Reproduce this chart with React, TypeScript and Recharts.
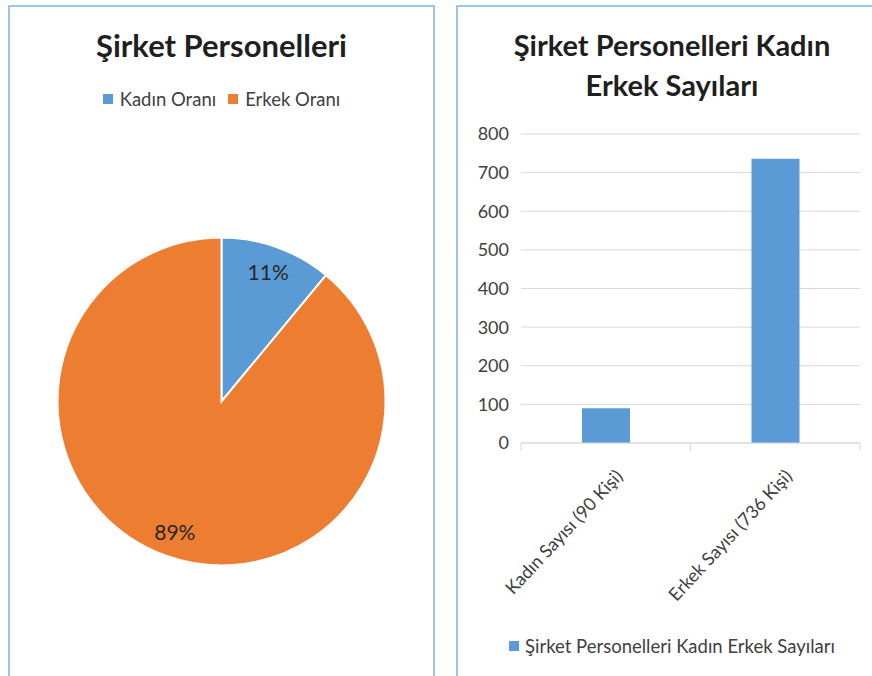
import React from "react";
import { PieChart, Pie, Cell, BarChart, Bar, XAxis, YAxis, CartesianGrid } from "recharts";

const pieLabels = ["Kadın Oranı", "Erkek Oranı"];
const pieValues = [11, 89];
const pieColors = ["#5b9bd5", "#ed7d31"];

const barCategories = ["Kadın Sayısı (90 Kişi)", "Erkek Sayısı (736 Kişi)"];
const barValues = [90, 736];
const barSeriesName = "Şirket Personelleri Kadın Erkek Sayıları";
const barColor = "#5b9bd5";
const yTicks = [0, 100, 200, 300, 400, 500, 600, 700, 800];

const FONT = "Lato, 'Open Sans', sans-serif";
const BORDER = "#9dc3e6";

const pieData = pieLabels.map((name, i) => ({ name, value: pieValues[i] }));
const barData = barCategories.map((name, i) => ({ name, value: barValues[i] }));

const BAR_W = 415;
const BAR_Y_W = 64;
const BAR_RIGHT = 12;
const PLOT_W = BAR_W - BAR_Y_W - BAR_RIGHT;
const HALF_BAND = PLOT_W / barCategories.length / 2;

const RAD = Math.PI / 180;

function PieLabel(props: any) {
  const { cx, cy, midAngle, outerRadius, percent } = props;
  const r = outerRadius * 0.84;
  const x = cx + r * Math.cos(-midAngle * RAD);
  const y = cy + r * Math.sin(-midAngle * RAD);
  return (
    <text
      x={x}
      y={y}
      fill="#262626"
      fontSize={21}
      fontFamily={FONT}
      textAnchor="middle"
      dominantBaseline="central"
    >
      {Math.round(percent * 100)}%
    </text>
  );
}

function CategoryTick(props: any) {
  const { x, y, payload, index } = props;
  const last = index === barCategories.length - 1;
  return (
    <g>
      <line x1={x - HALF_BAND} x2={x - HALF_BAND} y1={y - 8} y2={y} stroke="#d9d9d9" />
      {last && <line x1={x + HALF_BAND} x2={x + HALF_BAND} y1={y - 8} y2={y} stroke="#d9d9d9" />}
      <text
        transform={`translate(${x + 18}, ${y + 26}) rotate(-47)`}
        textAnchor="end"
        fill="#404040"
        fontSize={18}
        fontFamily={FONT}
      >
        {payload.value}
      </text>
    </g>
  );
}

const titleStyle: React.CSSProperties = {
  position: "absolute",
  textAlign: "center",
  fontFamily: FONT,
  fontWeight: 700,
  fontSize: 31,
  color: "#1f1f1f",
  lineHeight: "40px",
};

const legendText: React.CSSProperties = {
  fontFamily: FONT,
  fontSize: 18.5,
  color: "#404040",
};

export default function App() {
  return (
    <div
      style={{
        position: "absolute",
        left: 0,
        top: 0,
        width: 872,
        height: 676,
        overflow: "hidden",
        background: "#fff",
      }}
    >
      <div
        style={{
          position: "absolute",
          left: 8,
          top: 5,
          width: 427,
          height: 720,
          border: `2px solid ${BORDER}`,
          boxSizing: "border-box",
        }}
      />
      <div
        style={{
          position: "absolute",
          left: 456,
          top: 5,
          width: 460,
          height: 720,
          border: `2px solid ${BORDER}`,
          boxSizing: "border-box",
        }}
      />

      <div style={{ ...titleStyle, left: 8, width: 427, top: 25 }}>Şirket Personelleri</div>
      <div
        style={{
          position: "absolute",
          left: 8,
          width: 427,
          top: 88,
          display: "flex",
          justifyContent: "center",
          gap: 12,
        }}
      >
        {pieLabels.map((name, i) => (
          <div key={name} style={{ display: "flex", alignItems: "center", gap: 7 }}>
            <span style={{ width: 10, height: 10, background: pieColors[i], display: "inline-block" }} />
            <span style={legendText}>{name}</span>
          </div>
        ))}
      </div>

      <div style={{ position: "absolute", left: 0, top: 0 }}>
        <PieChart width={436} height={676} margin={{ top: 0, right: 0, bottom: 0, left: 0 }}>
          <Pie
            data={pieData}
            dataKey="value"
            nameKey="name"
            cx={221.5}
            cy={401.5}
            outerRadius={164}
            startAngle={90}
            endAngle={-270}
            stroke="#fff"
            strokeWidth={2}
            label={PieLabel}
            labelLine={false}
            isAnimationActive={false}
          >
            {pieData.map((d, i) => (
              <Cell key={d.name} fill={pieColors[i]} />
            ))}
          </Pie>
        </PieChart>
      </div>

      <div style={{ ...titleStyle, fontSize: 29, left: 456, width: 432, top: 25 }}>
        Şirket Personelleri Kadın
        <br />
        Erkek Sayıları
      </div>

      <div style={{ position: "absolute", left: 457, top: 0 }}>
        <BarChart
          width={BAR_W}
          height={676}
          data={barData}
          margin={{ top: 134, right: BAR_RIGHT, left: 0, bottom: 0 }}
        >
          <CartesianGrid vertical={false} stroke="#d9d9d9" />
          <XAxis
            dataKey="name"
            height={233}
            axisLine={{ stroke: "#d9d9d9" }}
            tickLine={false}
            tick={<CategoryTick />}
            interval={0}
          />
          <YAxis
            width={BAR_Y_W}
            domain={[0, 800]}
            ticks={yTicks}
            axisLine={false}
            tickLine={false}
            tickMargin={6}
            tick={{ fill: "#404040", fontSize: 18, fontFamily: FONT }}
          />
          <Bar dataKey="value" name={barSeriesName} fill={barColor} barSize={48} isAnimationActive={false} />
        </BarChart>
      </div>

      <div
        style={{
          position: "absolute",
          left: 456,
          width: 432,
          top: 635,
          display: "flex",
          justifyContent: "center",
          alignItems: "center",
          gap: 6,
        }}
      >
        <span style={{ width: 10, height: 10, background: barColor, display: "inline-block" }} />
        <span style={legendText}>{barSeriesName}</span>
      </div>
    </div>
  );
}
